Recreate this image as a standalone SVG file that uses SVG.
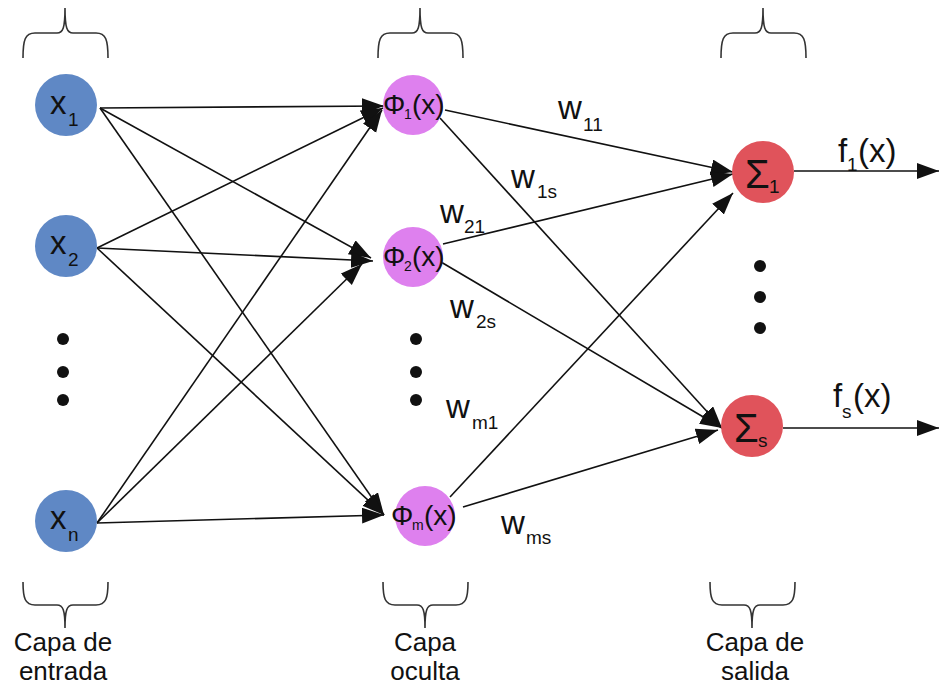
<svg xmlns="http://www.w3.org/2000/svg" width="940" height="686" viewBox="0 0 940 686">
  <style>
    text { font-family: "Liberation Sans", Arial, sans-serif; fill: #111; }
    .lbl { font-size: 33px; }
    .phi { font-size: 28px; }
    .sub { font-size: 19px; }
    .subs { font-size: 14px; }
    .cap { font-size: 26px; text-anchor: middle; }
    .edge { stroke: #111; stroke-width: 1.6; fill: none; marker-end: url(#arrow); }
    .brace { stroke: #333; stroke-width: 1.6; fill: none; }
    .in { fill: #5f88c5; }
    .hid { fill: #de80ee; }
    .out { fill: #e0535b; }
    .dot { fill: #111; }
  </style>
  <defs>
    <marker id="arrow" markerUnits="userSpaceOnUse" markerWidth="24" markerHeight="18" refX="22" refY="8" orient="auto">
      <path d="M0,0 L22,8 L0,16 z" fill="#111"/>
    </marker>
  </defs>
  <rect width="940" height="686" fill="#fff"/>

  <!-- layer braces -->
  <g id="braces">
    <path class="brace" d="M23,58 C23,40 25,33 35,33 L57,33 C63,33 65,28 65,8 C65,28 67,33 73,33 L96,33 C106,33 108,40 108,58"/>
    <path class="brace" d="M378,58 C378,40 380,33 390,33 L412,33 C418,33 420,28 420,8 C420,28 422,33 428,33 L451,33 C461,33 463,40 463,58"/>
    <path class="brace" d="M721,58 C721,40 723,33 733,33 L755,33 C761,33 763,28 763,8 C763,28 765,33 771,33 L794,33 C804,33 806,40 806,58"/>
    <path class="brace" d="M23,582 C23,598 25,605 35,605 L57,605 C63,605 65,610 65,628 C65,610 67,605 73,605 L96,605 C106,605 108,598 108,582"/>
    <path class="brace" d="M383,582 C383,598 385,605 395,605 L417,605 C423,605 425,610 425,628 C425,610 427,605 433,605 L456,605 C466,605 468,598 468,582"/>
    <path class="brace" d="M710,582 C710,598 712,605 722,605 L744,605 C750,605 752,610 752,628 C752,610 754,605 760,605 L783,605 C793,605 795,598 795,582"/>
  </g>

  <!-- connectors -->
  <g id="connectors">
    <line class="edge" x1="100" y1="108" x2="384" y2="106"/>
    <line class="edge" x1="100" y1="108" x2="371" y2="258"/>
    <line class="edge" x1="100" y1="108" x2="384" y2="515"/>
    <line class="edge" x1="97" y1="248" x2="383" y2="108"/>
    <line class="edge" x1="97" y1="248" x2="373" y2="261"/>
    <line class="edge" x1="97" y1="248" x2="384" y2="515"/>
    <line class="edge" x1="97" y1="523" x2="382" y2="110"/>
    <line class="edge" x1="97" y1="523" x2="362" y2="264"/>
    <line class="edge" x1="97" y1="523" x2="384" y2="515"/>

    <line class="edge" x1="445" y1="110" x2="733" y2="172"/>
    <line class="edge" x1="440" y1="118" x2="722" y2="428"/>
    <line class="edge" x1="443" y1="244" x2="733" y2="174"/>
    <line class="edge" x1="441" y1="262" x2="722" y2="428"/>
    <line class="edge" x1="450" y1="497" x2="733" y2="193"/>
    <line class="edge" x1="463" y1="507" x2="718" y2="430"/>

    <line class="edge" x1="794" y1="171" x2="939" y2="171"/>
    <line class="edge" x1="783" y1="428" x2="939" y2="428"/>
  </g>

  <!-- input layer -->
  <g id="x1">
    <circle class="in" cx="66" cy="105" r="31"/>
    <text class="lbl" x="50" y="114">x</text><text class="sub" x="68" y="126">1</text>
  </g>
  <g id="x2">
    <circle class="in" cx="66" cy="246" r="31"/>
    <text class="lbl" x="50" y="254">x</text><text class="sub" x="68" y="266">2</text>
  </g>
  <g id="xn">
    <circle class="in" cx="66" cy="521" r="31"/>
    <text class="lbl" x="50" y="529">x</text><text class="sub" x="68" y="541">n</text>
  </g>

  <!-- hidden layer -->
  <g id="phi1">
    <circle class="hid" cx="413" cy="105" r="30"/>
    <text class="phi" x="383" y="114">Φ</text><text class="subs" x="404" y="119">1</text><text class="phi" x="412" y="114">(x)</text>
  </g>
  <g id="phi2">
    <circle class="hid" cx="413" cy="257" r="30"/>
    <text class="phi" x="383" y="266">Φ</text><text class="subs" x="404" y="271">2</text><text class="phi" x="412" y="266">(x)</text>
  </g>
  <g id="phim">
    <circle class="hid" cx="425" cy="516" r="30"/>
    <text class="phi" x="391" y="525">Φ</text><text class="subs" x="412" y="530">m</text><text class="phi" x="424" y="525">(x)</text>
  </g>

  <!-- output layer -->
  <g id="sum1">
    <circle class="out" cx="763" cy="172" r="31"/>
    <text x="745" y="188" style="font-size:40px">Σ</text><text class="sub" x="769" y="193">1</text>
  </g>
  <g id="sums">
    <circle class="out" cx="752" cy="426" r="31"/>
    <text x="734" y="442" style="font-size:40px">Σ</text><text class="sub" x="758" y="447">s</text>
  </g>

  <!-- ellipsis dots -->
  <g id="dots">
    <circle class="dot" cx="63" cy="339" r="6"/>
    <circle class="dot" cx="63" cy="372" r="6"/>
    <circle class="dot" cx="63" cy="400" r="6"/>
    <circle class="dot" cx="416" cy="339" r="6"/>
    <circle class="dot" cx="416" cy="372" r="6"/>
    <circle class="dot" cx="416" cy="400" r="6"/>
    <circle class="dot" cx="760" cy="266" r="6"/>
    <circle class="dot" cx="760" cy="297" r="6"/>
    <circle class="dot" cx="760" cy="328" r="6"/>
  </g>

  <!-- weight labels -->
  <g id="weights">
    <text class="lbl" x="558" y="119">w</text><text class="sub" x="583" y="131">11</text>
    <text class="lbl" x="511" y="188">w</text><text class="sub" x="537" y="198">1s</text>
    <text class="lbl" x="440" y="223">w</text><text class="sub" x="464" y="233">21</text>
    <text class="lbl" x="450" y="318">w</text><text class="sub" x="476" y="328">2s</text>
    <text class="lbl" x="446" y="418">w</text><text class="sub" x="472" y="429">m1</text>
    <text class="lbl" x="501" y="534">w</text><text class="sub" x="526" y="544">ms</text>
  </g>

  <!-- outputs -->
  <g id="outputs">
    <text class="lbl" x="838" y="162">f</text><text class="sub" x="847" y="171">1</text><text class="lbl" x="858" y="162">(x)</text>
    <text class="lbl" x="833" y="407">f</text><text class="sub" x="842" y="418">s</text><text class="lbl" x="853" y="407">(x)</text>
  </g>

  <!-- layer captions -->
  <g id="captions">
    <text class="cap" x="63" y="651">Capa de</text>
    <text class="cap" x="63" y="680">entrada</text>
    <text class="cap" x="425" y="651">Capa</text>
    <text class="cap" x="425" y="680">oculta</text>
    <text class="cap" x="755" y="651">Capa de</text>
    <text class="cap" x="755" y="680">salida</text>
  </g>
</svg>
